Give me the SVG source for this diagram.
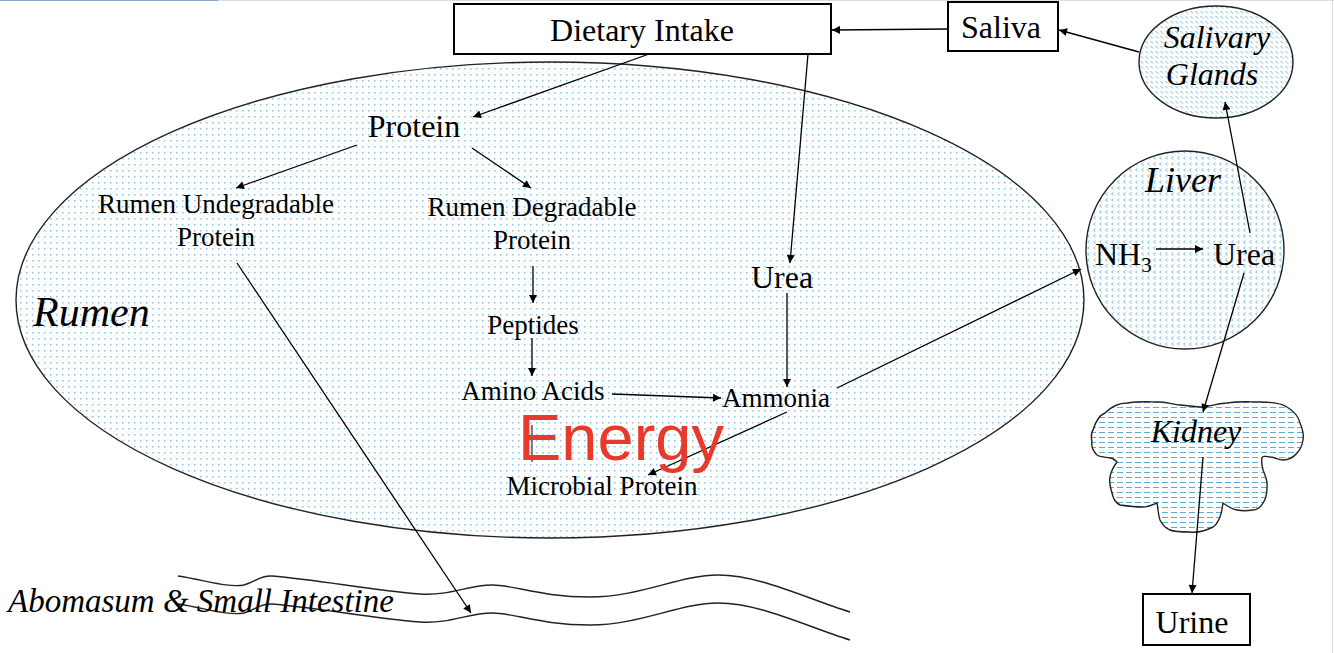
<svg xmlns="http://www.w3.org/2000/svg" width="1334" height="653" viewBox="0 0 1334 653">
<style>
.t{font-family:"Liberation Serif","Times New Roman",serif;fill:#000;}
.i{font-style:italic;}
.c{stroke:#000;stroke-width:1.3;fill:none;marker-end:url(#ah);}
.box{fill:#fff;stroke:#000;stroke-width:2;}
.org{stroke:#222;stroke-width:1.4;}
</style>
<defs>
<marker id="ah" viewBox="0 0 10 10" refX="10" refY="5" markerWidth="10" markerHeight="8" markerUnits="userSpaceOnUse" orient="auto"><path d="M0,0 L10,5 L0,10 z" fill="#000"/></marker>
<pattern id="dots" width="6" height="6" patternUnits="userSpaceOnUse"><rect width="6" height="6" fill="#fff"/><rect x="2" y="2" width="1.5" height="1.5" fill="#86c6e4"/></pattern>
<pattern id="chev" width="6" height="6" patternUnits="userSpaceOnUse"><rect width="6" height="6" fill="#fff"/><path d="M3.5,0.5 L1.5,2 L3.5,3.5" stroke="#6cb9dc" stroke-width="0.9" fill="none"/></pattern>
<pattern id="hatch" width="5" height="5" patternUnits="userSpaceOnUse"><rect width="5" height="5" fill="#fff"/><path d="M0.5,1 L3,3.5" stroke="#6cb9dc" stroke-width="1"/></pattern>
<pattern id="dash" width="9" height="5" patternUnits="userSpaceOnUse"><rect width="9" height="5" fill="#fff"/><path d="M1,2.5 L7,2.5" stroke="#5aaed4" stroke-width="1"/></pattern>
</defs>
<rect width="1334" height="653" fill="#fff"/>
<line x1="0" y1="0.5" x2="1334" y2="0.5" stroke="#dddddd" stroke-width="1"/>
<line x1="0" y1="0.5" x2="218" y2="0.5" stroke="#8aa4c8" stroke-width="1.2"/>
<line x1="1332.5" y1="0" x2="1332.5" y2="653" stroke="#dddddd" stroke-width="1"/>

<g id="rumen">
<ellipse cx="550" cy="300" rx="534" ry="238" fill="url(#dots)" class="org"/>
<text class="t i" x="33" y="326" font-size="42">Rumen</text>
</g>
<g id="intestine">
<path d="M178,576 C205,580 228,588 244,585 C256,582 260,575 272,576 C320,580 370,590 420,594 C450,596 468,585 492,585 C515,585 540,597 590,597 C640,597 680,575 718,575 C760,575 805,598 850,612" fill="none" stroke="#222" stroke-width="1.4"/>
<path d="M178,604 C205,608 228,616 244,613 C256,610 260,603 272,604 C320,608 370,618 420,622 C450,624 468,613 492,613 C515,613 540,625 590,625 C640,625 680,603 718,603 C760,603 805,626 850,640" fill="none" stroke="#222" stroke-width="1.4"/>
<text class="t i" x="8" y="612" font-size="33">Abomasum &amp; Small Intestine</text>
</g>

<g id="dietary-intake">
<rect x="454" y="4" width="377" height="50" class="box"/>
<text class="t" x="642" y="41" font-size="32" text-anchor="middle">Dietary Intake</text>
</g>
<g id="saliva">
<rect x="948" y="2" width="110" height="49" class="box"/>
<text class="t" x="1001" y="38" font-size="32" text-anchor="middle">Saliva</text>
</g>
<g id="salivary-glands">
<ellipse cx="1216" cy="62" rx="77" ry="56" fill="url(#hatch)" class="org"/>
<text class="t i" x="1217" y="48" font-size="32" text-anchor="middle">Salivary</text>
<text class="t i" x="1212" y="85" font-size="32" text-anchor="middle">Glands</text>
</g>
<g id="liver">
<circle cx="1185" cy="250" r="99" fill="url(#chev)" class="org"/>
<text class="t i" x="1183" y="192" font-size="36" text-anchor="middle">Liver</text>
<text class="t" x="1095" y="265" font-size="32">NH<tspan font-size="21" dy="7">3</tspan></text>
<text class="t" x="1213" y="265" font-size="32">Urea</text>
</g>
<g id="kidney">
<path d="M1093,430 C1096,420 1100,415 1105,413 C1112,406 1120,403 1127,403 C1140,401 1150,402 1160,402 C1168,402 1174,405 1180,405 C1190,406 1197,407 1203,407 C1212,406 1220,403 1227,403 C1240,401 1250,402 1260,402 C1272,402 1281,403 1287,407 C1295,412 1299,418 1300,423 C1303,430 1304,435 1303,440 C1302,446 1300,450 1297,453 C1293,458 1288,460 1283,460 C1278,460 1274,457 1270,457 C1266,456 1262,456 1262,458 C1261,462 1262,466 1263,470 C1266,477 1268,482 1267,487 C1267,494 1266,499 1263,503 C1260,508 1257,510 1253,510 C1247,511 1242,511 1237,510 C1231,509 1226,505 1223,503 C1222,508 1222,512 1220,517 C1218,522 1216,525 1213,527 C1205,531 1197,533 1190,532 C1182,532 1175,532 1170,530 C1165,528 1162,524 1160,520 C1158,514 1158,508 1157,503 C1152,505 1148,507 1143,507 C1134,507 1127,506 1120,505 C1116,503 1113,498 1112,493 C1110,487 1109,482 1110,477 C1111,471 1114,466 1117,462 C1114,459 1112,458 1110,458 C1104,457 1100,457 1097,455 C1093,451 1091,447 1092,442 C1091,437 1091,433 1093,430 Z" fill="url(#dash)" class="org"/>
<text class="t i" x="1196" y="442" font-size="32" text-anchor="middle">Kidney</text>
</g>
<g id="urine">
<rect x="1143" y="594" width="107" height="51" class="box"/>
<text class="t" x="1192" y="633" font-size="32" text-anchor="middle">Urine</text>
</g>

<g id="protein"><text class="t" x="414" y="137" font-size="32" text-anchor="middle">Protein</text></g>
<g id="rup">
<text class="t" x="216" y="213" font-size="27" text-anchor="middle">Rumen Undegradable</text>
<text class="t" x="216" y="246" font-size="27" text-anchor="middle">Protein</text>
</g>
<g id="rdp">
<text class="t" x="532" y="216" font-size="27" text-anchor="middle">Rumen Degradable</text>
<text class="t" x="532" y="249" font-size="27" text-anchor="middle">Protein</text>
</g>
<g id="peptides"><text class="t" x="533" y="334" font-size="27" text-anchor="middle">Peptides</text></g>
<g id="amino-acids"><text class="t" x="533" y="400" font-size="27" text-anchor="middle">Amino Acids</text></g>
<g id="urea-rumen"><text class="t" x="782" y="288" font-size="32" text-anchor="middle">Urea</text></g>
<g id="ammonia"><text class="t" x="776" y="407" font-size="27" text-anchor="middle">Ammonia</text></g>
<g id="microbial-protein"><text class="t" x="602" y="495" font-size="27" text-anchor="middle">Microbial Protein</text></g>

<g id="connectors">
<path class="c" d="M948,29 L832,30"/>
<path class="c" d="M1139,52 L1059,30"/>
<path class="c" d="M649,54 L473,117"/>
<path class="c" d="M808,54 L790,263"/>
<path class="c" d="M357,145 L236,188"/>
<path class="c" d="M472,148 L531,188"/>
<path class="c" d="M533,266 L533,303"/>
<path class="c" d="M532,338 L532,376"/>
<path class="c" d="M612,394 L721,398"/>
<path class="c" d="M787,293 L787,387"/>
<path class="c" d="M837,388 L1081,269"/>
<path class="c" d="M787,412 L648,475"/>
<path class="c" d="M237,263 L471,613"/>
<path class="c" d="M1156,249 L1203,249"/>
<path class="c" d="M1250,233 L1225,102"/>
<path class="c" d="M1244,273 L1203,412"/>
<path class="c" d="M1203,457 L1192,593"/>
<path d="M532,425 L532,462" stroke="#000" stroke-width="1" fill="none"/>
</g>

<g id="energy"><text x="621" y="460" font-family="Liberation Sans, Arial, sans-serif" font-size="65" fill="#e8392a" text-anchor="middle">Energy</text></g>
</svg>
